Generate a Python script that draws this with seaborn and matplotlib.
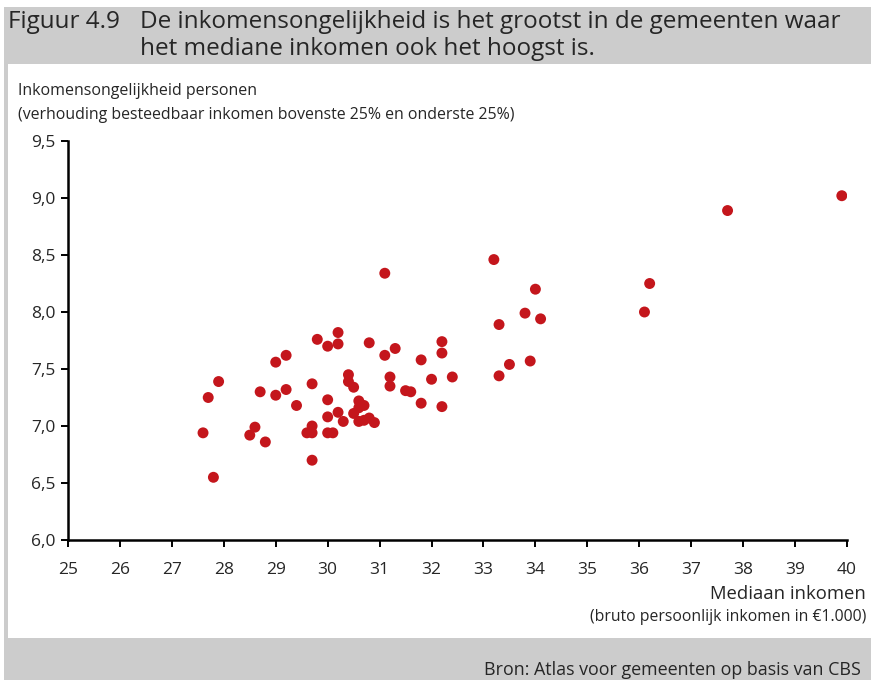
import matplotlib
matplotlib.use("Agg")
import matplotlib.pyplot as plt
import pandas as pd
import seaborn as sns
from matplotlib.patches import Rectangle
from matplotlib.ticker import FuncFormatter, MultipleLocator


# mediaan inkomen (x1000 euro) en inkomensongelijkheid per gemeente
mediaan_inkomen = [
    27.6, 27.7, 27.8, 27.9, 28.5, 28.6, 28.7, 28.8, 29.0, 29.0,
    29.2, 29.2, 29.4, 29.6, 29.7, 29.7, 29.7, 29.7, 29.8, 30.0,
    30.0, 30.0, 30.0, 30.1, 30.2, 30.2, 30.2, 30.3, 30.4, 30.4,
    30.5, 30.5, 30.6, 30.6, 30.6, 30.7, 30.7, 30.8, 30.8, 30.9,
    31.1, 31.1, 31.2, 31.2, 31.3, 31.5, 31.6, 31.8, 31.8, 32.0,
    32.2, 32.2, 32.2, 32.4, 33.2, 33.3, 33.3, 33.5, 33.8, 33.9,
    34.0, 34.1, 36.1, 36.2, 37.7, 39.9,
]
ongelijkheid = [
    6.94, 7.25, 6.55, 7.39, 6.92, 6.99, 7.30, 6.86, 7.56, 7.27,
    7.62, 7.32, 7.18, 6.94, 7.37, 7.00, 6.94, 6.70, 7.76, 7.70,
    7.23, 7.08, 6.94, 6.94, 7.82, 7.72, 7.12, 7.04, 7.45, 7.39,
    7.34, 7.11, 7.22, 7.16, 7.04, 7.18, 7.05, 7.73, 7.07, 7.03,
    8.34, 7.62, 7.43, 7.35, 7.68, 7.31, 7.30, 7.58, 7.20, 7.41,
    7.74, 7.64, 7.17, 7.43, 8.46, 7.89, 7.44, 7.54, 7.99, 7.57,
    8.20, 7.94, 8.00, 8.25, 8.89, 9.02,
]

df = pd.DataFrame({"inkomen": mediaan_inkomen, "ongelijkheid": ongelijkheid})

sns.set_style("white")
plt.rcParams["font.family"] = ["Open Sans", "DejaVu Sans"]

fig = plt.figure(figsize=(8.71, 6.80), dpi=100)
W, H = 871, 680

# grijze kaders rond de figuur
fig.patches.append(Rectangle((4 / W, 0), 1, 1 - 7 / H, transform=fig.transFigure,
                             facecolor="#cccccc", edgecolor="none", zorder=-2))
fig.patches.append(Rectangle((8 / W, 1 - 638 / H), 1, (638 - 64) / H,
                             transform=fig.transFigure, facecolor="white",
                             edgecolor="none", zorder=-1))

fig.text(8 / W, 1 - 22 / H, "Figuur 4.9", fontsize=17.5, va="center", ha="left")
fig.text(140 / W, 1 - 22 / H, "De inkomensongelijkheid is het grootst in de gemeenten waar",
         fontsize=17.5, va="center", ha="left")
fig.text(140 / W, 1 - 49 / H, "het mediane inkomen ook het hoogst is.",
         fontsize=17.5, va="center", ha="left")

ax = fig.add_axes([68 / W, 1 - 540 / H, (847 - 68) / W, (540 - 141) / H])
ax.set_facecolor("none")

sns.scatterplot(data=df, x="inkomen", y="ongelijkheid", ax=ax, s=62,
                color="#c4161c", edgecolor="none", linewidth=0, zorder=3)

ax.set_xlim(25, 40)
ax.set_ylim(6.0, 9.5)
ax.xaxis.set_major_locator(MultipleLocator(1))
ax.yaxis.set_major_locator(MultipleLocator(0.5))
ax.yaxis.set_major_formatter(FuncFormatter(lambda v, p: f"{v:.1f}".replace(".", ",")))
ax.set_xlabel("")
ax.set_ylabel("")

for side in ["top", "right"]:
    ax.spines[side].set_visible(False)
for side in ["left", "bottom"]:
    ax.spines[side].set_color("black")
    ax.spines[side].set_linewidth(1.8)
ax.tick_params(axis="both", which="major", direction="out", length=5, width=1.4,
               color="black", labelsize=12.5, left=True, bottom=True)
ax.tick_params(axis="x", pad=11)
ax.tick_params(axis="y", pad=4)

fig.text(18 / W, 1 - 91 / H, "Inkomensongelijkheid personen", fontsize=11.5,
         va="center", ha="left")
fig.text(18 / W, 1 - 115 / H,
         "(verhouding besteedbaar inkomen bovenste 25% en onderste 25%)",
         fontsize=11.4, va="center", ha="left")
fig.text(866 / W, 1 - 594 / H, "Mediaan inkomen", fontsize=13.3, va="center", ha="right")
fig.text(866 / W, 1 - 617 / H, "(bruto persoonlijk inkomen in €1.000)", fontsize=11.3,
         va="center", ha="right")
fig.text(484 / W, 1 - 670 / H, "Bron: Atlas voor gemeenten op basis van CBS",
         fontsize=12.9, va="center", ha="left")

fig.savefig("out.png", dpi=100)
